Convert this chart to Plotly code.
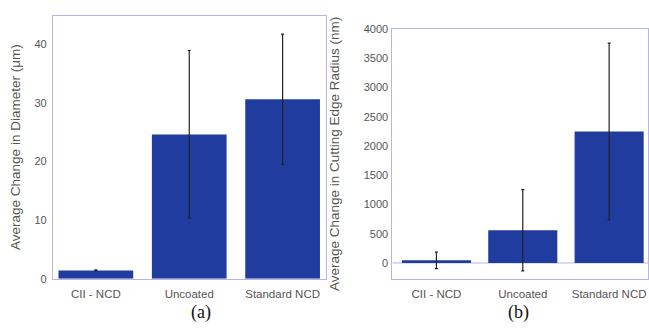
import plotly.graph_objects as go

categories = ["CII - NCD", "Uncoated", "Standard NCD"]
diam_values = [1.4, 24.6, 30.6]
diam_errors = [0.1, 14.3, 11.1]
radius_values = [45, 560, 2250]
radius_errors = [140, 695, 1512]
diam_ticks = [0, 10, 20, 30, 40]
radius_ticks = [0, 500, 1000, 1500, 2000, 2500, 3000, 3500, 4000]

W, H = 649, 328
bar_color = "#1f3c9e"
frame = "#b4b4e6"
font_fam = "Liberation Sans, Arial"
ytickfont = dict(family=font_fam, size=11, color="#555555")
xtickfont = dict(family=font_fam, size=11.5, color="#555555")
titlefont = dict(family=font_fam, size=13.5, color="#555555")

fig = go.Figure()
fig.add_trace(go.Bar(x=[0, 1, 2], y=diam_values, width=0.8, marker=dict(color=bar_color, line=dict(width=0)),
                     error_y=dict(type="data", array=diam_errors, color="#222222", thickness=1.2, width=1.5),
                     xaxis="x", yaxis="y", showlegend=False))
fig.add_trace(go.Bar(x=[0, 1, 2], y=radius_values, width=0.8, marker=dict(color=bar_color, line=dict(width=0)),
                     error_y=dict(type="data", array=radius_errors, color="#222222", thickness=1.2, width=1.5),
                     xaxis="x2", yaxis="y2", showlegend=False))

axcommon = dict(showline=True, linecolor=frame, linewidth=1, mirror=True, showgrid=False, zeroline=False, ticks="")
fig.update_layout(
    width=W, height=H, margin=dict(l=0, r=0, t=0, b=0),
    paper_bgcolor="white", plot_bgcolor="white",
    xaxis=dict(domain=[53/W, 327/W], range=[-0.46, 2.47], tickmode="array", tickvals=[0, 1, 2],
               ticktext=categories, anchor="y", tickfont=xtickfont, ticklabelstandoff=5, **axcommon),
    yaxis=dict(domain=[1-283/H, 1-10/H], range=[0, 44.85], tickmode="array", tickvals=diam_ticks,
               anchor="x", tickfont=ytickfont, ticklabelstandoff=3,
               title=dict(text="Average Change in Diameter (\u03bcm)", font=titlefont, standoff=10),
               **axcommon),
    xaxis2=dict(domain=[393/W, 1.0], range=[-0.51, 2.45], tickmode="array", tickvals=[0, 1, 2],
                ticktext=categories, anchor="y2", tickfont=xtickfont, ticklabelstandoff=5, **axcommon),
    yaxis2=dict(domain=[1-283/H, 1-24/H], range=[-268, 4000], tickmode="array", tickvals=radius_ticks,
                anchor="x2", tickfont=ytickfont, ticklabelstandoff=1,
                title=dict(text="Average Change in Cutting Edge Radius (nm)", font=titlefont, standoff=20),
                **axcommon),
    annotations=[
        dict(text="(a)", x=201/W, y=1-318/H, xref="paper", yref="paper", showarrow=False,
             xanchor="center", yanchor="middle",
             font=dict(family="Liberation Serif, Times New Roman", size=18, color="#111111")),
        dict(text="(b)", x=519/W, y=1-318/H, xref="paper", yref="paper", showarrow=False,
             xanchor="center", yanchor="middle",
             font=dict(family="Liberation Serif, Times New Roman", size=18, color="#111111")),
    ],
    shapes=[dict(type="line", xref="x2 domain", x0=0, x1=1, yref="y2", y0=0, y1=0,
                 line=dict(color=frame, width=1), layer="below")],
)

fig.write_html("out.html")
